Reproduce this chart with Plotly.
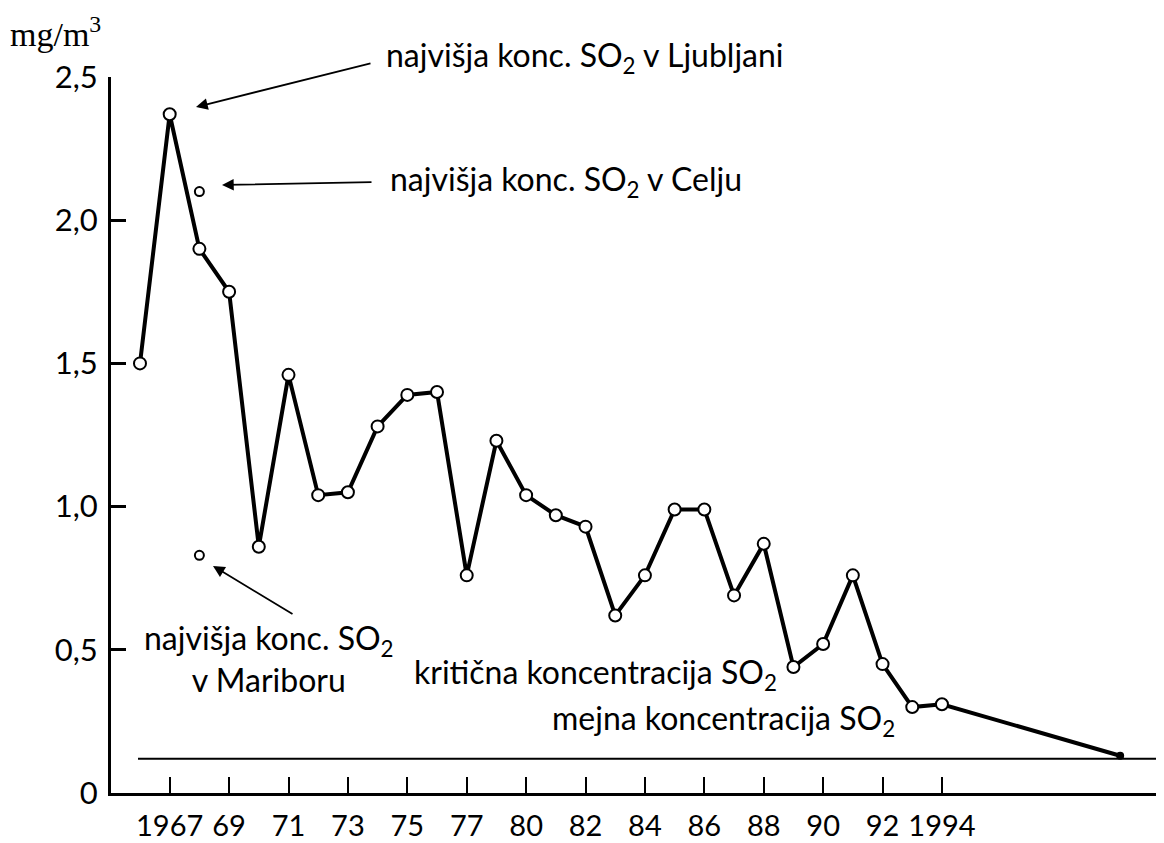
import plotly.graph_objects as go

# ---- data ----
years = ["1966", "1967", "1968", "1969", "1970", "1971", "1972", "1973", "1974",
         "1975", "1976", "1977", "1978", "1980", "1981", "1982", "1983", "1984",
         "1985", "1986", "1987", "1988", "1989", "1990", "1991", "1992", "1993",
         "1994", "2000"]
so2_values = [1.50, 2.37, 1.90, 1.75, 0.86, 1.46, 1.04, 1.05, 1.28, 1.39, 1.40,
              0.76, 1.23, 1.04, 0.97, 0.93, 0.62, 0.76, 0.99, 0.99, 0.69, 0.87,
              0.44, 0.52, 0.76, 0.45, 0.30, 0.31, 0.13]
extra_years = ["1995", "1996", "1997", "1998", "1999"]
celje_year, celje_value = "1968", 2.10
maribor_year, maribor_value = "1968", 0.83
limit_value = 0.12

x_tickvals = ["1967", "1969", "1971", "1973", "1975", "1977", "1980", "1982",
              "1984", "1986", "1988", "1990", "1992", "1994"]
x_ticktext = ["1967", "69", "71", "73", "75", "77", "80", "82", "84", "86", "88",
              "90", "92", "1994"]
y_tickvals = [0, 0.5, 1.0, 1.5, 2.0, 2.5]
y_ticktext = ["0", "0,5", "1,0", "1,5", "2,0", "2,5"]

# ---- layout geometry (page pixels; the page body has an 8px margin) ----
PAGE_W, PAGE_H = 1164, 843
OFF = 8
W, H = PAGE_W - OFF, PAGE_H - OFF
L, R, T, B = 111, 1157, 77, 793          # plot area in page pixels
FONT = "Lato"
FS_XTICK = 29
FS_YTICK = 31
FS_TEXT = 32


def px(xp):
    return (xp - L) / (R - L)


def py(yp):
    return (B - yp) / (B - T)


category_order = years[:-1] + extra_years + [years[-1]]
n = len(so2_values)
marker_fill = ["white"] * (n - 1) + ["black"]
marker_size = [12] * (n - 1) + [6]

fig = go.Figure()
fig.add_trace(go.Scatter(
    x=years, y=so2_values, mode="lines+markers",
    line=dict(color="black", width=4),
    marker=dict(symbol="circle", size=marker_size, color=marker_fill,
                opacity=1, line=dict(color="black", width=2)),
    cliponaxis=False, showlegend=False, hoverinfo="x+y"))
fig.add_trace(go.Scatter(
    x=[celje_year, maribor_year], y=[celje_value, maribor_value], mode="markers",
    marker=dict(symbol="circle", size=9, color="white", opacity=1,
                line=dict(color="black", width=2)),
    cliponaxis=False, showlegend=False))

fig.add_shape(type="line", xref="paper", yref="y", x0=px(138), x1=px(1164),
              y0=limit_value, y1=limit_value, line=dict(color="black", width=2))

annots = []


def arrow(tip, tail):
    annots.append(dict(xref="paper", yref="paper", x=px(tip[0]), y=py(tip[1]),
                       axref="pixel", ayref="pixel", ax=tail[0] - tip[0],
                       ay=tail[1] - tip[1], text="", showarrow=True,
                       arrowhead=2, arrowsize=1.3, arrowwidth=1.8,
                       arrowcolor="black"))


def label(text, xp, yp, xanchor="left", align="left"):
    annots.append(dict(xref="paper", yref="paper", x=px(xp), y=py(yp),
                       xanchor=xanchor, yanchor="middle", text=text,
                       showarrow=False, align=align,
                       font=dict(family=FONT, size=FS_TEXT, color="black")))


arrow((196, 107), (372, 63))
arrow((222, 185), (373, 182))
arrow((213, 566), (294, 615))
label("najvišja konc. SO<sub>2</sub> v Ljubljani", 384, 57)
label("najvišja konc. SO<sub>2</sub> v Celju", 388, 181)
label("najvišja konc. SO<sub>2</sub><br>v Mariboru", 269, 658, xanchor="center",
      align="center")
label("kritična koncentracija SO<sub>2</sub>", 412, 674)
label("mejna koncentracija SO<sub>2</sub>", 550, 720)
annots.append(dict(xref="paper", yref="paper", x=px(8), y=py(32),
                   xanchor="left", yanchor="middle", text="mg/m<sup>3</sup>",
                   showarrow=False,
                   font=dict(family="Liberation Serif", size=34, color="black")))

fig.update_layout(
    width=W, height=H,
    margin=dict(l=L - OFF, r=PAGE_W - R, t=T - OFF, b=PAGE_H - B, pad=0,
                autoexpand=False),
    paper_bgcolor="white", plot_bgcolor="white",
    annotations=annots,
    font=dict(family=FONT, size=FS_YTICK, color="black"),
    xaxis=dict(type="category", categoryorder="array", categoryarray=category_order,
               range=[-0.976, 34.24], tickmode="array", tickvals=x_tickvals,
               ticktext=x_ticktext, ticks="inside", ticklen=16, tickwidth=2,
               tickcolor="black", showline=True, linecolor="black", linewidth=3,
               showgrid=False, zeroline=False, ticklabelstandoff=5,
               automargin=False,
               tickfont=dict(family=FONT, size=FS_XTICK, color="black")),
    yaxis=dict(range=[0, 2.5], tickmode="array", tickvals=y_tickvals,
               ticktext=y_ticktext, ticks="inside", ticklen=15, tickwidth=3,
               tickcolor="black", showline=True, linecolor="black", linewidth=3,
               showgrid=False, zeroline=False, ticklabelstandoff=4,
               automargin=False,
               tickfont=dict(family=FONT, size=FS_YTICK, color="black")),
)

fig.write_html("out.html")
